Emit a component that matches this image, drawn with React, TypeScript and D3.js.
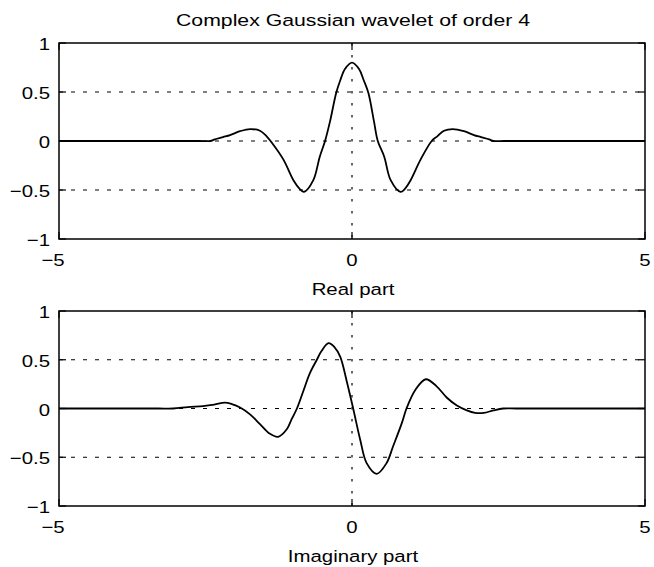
import { useEffect, useRef } from 'react';
import * as d3 from 'd3';

const xTicks = [-5, 0, 5];
const yTicks = [-1, -0.5, 0, 0.5, 1];

const titleText = 'Complex Gaussian wavelet of order 4';
const realLabel = 'Real part';
const imagLabel = 'Imaginary part';

// real part
const realX = [-5, -3.5, -2.6, -2.42, -2.34, -2.2, -2.08, -1.91, -1.74, -1.57, -1.46, -1.39, -1.17, -1.0, -0.89, -0.82, -0.66, -0.55, -0.46, -0.375, -0.27, -0.2, -0.12, 0, 0.12, 0.2, 0.28, 0.375, 0.44, 0.55, 0.66, 0.83, 0.9, 1.0, 1.17, 1.36, 1.46, 1.57, 1.72, 1.91, 2.08, 2.2, 2.34, 2.41, 2.6, 3.5, 5];
const realY = [0, 0, 0, 0, 0.017, 0.04, 0.06, 0.1, 0.122, 0.105, 0.05, 0, -0.19, -0.4, -0.49, -0.52, -0.4, -0.16, 0, 0.2, 0.49, 0.62, 0.735, 0.8, 0.735, 0.62, 0.49, 0.2, 0, -0.16, -0.4, -0.52, -0.49, -0.4, -0.19, 0, 0.05, 0.105, 0.122, 0.1, 0.06, 0.04, 0.017, 0, 0, 0, 0];

// imaginary part
const imagX = [-5, -4, -3.3, -3.05, -2.8, -2.54, -2.35, -2.17, -2.05, -1.91, -1.74, -1.57, -1.4, -1.26, -1.11, -1.03, -0.94, -0.83, -0.72, -0.6, -0.52, -0.4, -0.3, -0.2, -0.09, 0.02, 0.14, 0.25, 0.42, 0.59, 0.7, 0.85, 0.93, 1.08, 1.26, 1.44, 1.62, 1.79, 1.96, 2.1, 2.25, 2.41, 2.58, 2.8, 3.5, 5];
const imagY = [0, 0, 0, 0, 0.015, 0.025, 0.04, 0.06, 0.045, 0.01, -0.06, -0.16, -0.26, -0.29, -0.21, -0.11, 0, 0.18, 0.36, 0.5, 0.59, 0.67, 0.63, 0.53, 0.28, 0, -0.32, -0.56, -0.67, -0.56, -0.39, -0.15, 0, 0.19, 0.3, 0.23, 0.11, 0.03, -0.02, -0.045, -0.045, -0.02, 0, 0, 0, 0];

const font = 'Liberation Sans, Arial, Helvetica, sans-serif';

function App() {
  const svgRef = useRef(null);

  useEffect(() => {
    const svg = d3.select(svgRef.current);
    svg.selectAll('*').remove();

    const width = 654;
    const left = 59;
    const right = 645;
    const fontSize = 17;
    const sx = 1.2;

    svg.append('rect').attr('width', width).attr('height', 567).attr('fill', '#fff');

    const x = d3.scaleLinear().domain([-5, 5]).range([left, right]);

    const addText = (tx, ty, str, anchor, len) => {
      const t = svg
        .append('text')
        .attr('transform', `translate(${tx},${ty}) scale(${sx},1)`)
        .attr('text-anchor', anchor)
        .attr('font-family', font)
        .attr('font-size', fontSize)
        .attr('fill', '#000')
        .text(str);
      if (len) t.attr('textLength', len / sx).attr('lengthAdjust', 'spacingAndGlyphs');
      return t;
    };

    const fmt = (v) => (v < 0 ? '\u2212' + Math.abs(v) : String(v));

    const panels = [
      { top: 43, bottom: 239, xs: realX, ys: realY, label: realLabel },
      { top: 311, bottom: 506, xs: imagX, ys: imagY, label: imagLabel },
    ];

    panels.forEach((p) => {
      const y = d3.scaleLinear().domain([-1, 1]).range([p.bottom, p.top]);
      const g = svg.append('g');

      // dotted grid
      yTicks
        .filter((v) => v > -1 && v < 1)
        .forEach((v) => {
          g.append('line')
            .attr('x1', left).attr('x2', right)
            .attr('y1', y(v)).attr('y2', y(v))
            .attr('stroke', '#000').attr('stroke-width', 1)
            .attr('stroke-dasharray', '4 8');
        });
      xTicks
        .filter((v) => v > -5 && v < 5)
        .forEach((v) => {
          g.append('line')
            .attr('x1', x(v)).attr('x2', x(v))
            .attr('y1', p.top).attr('y2', p.bottom)
            .attr('stroke', '#000').attr('stroke-width', 1.2)
            .attr('stroke-dasharray', '2.5 9.5');
        });

      // curve
      const pts = p.xs.map((v, i) => [v, p.ys[i]]);
      const line = d3
        .line()
        .x((d) => x(d[0]))
        .y((d) => y(d[1]))
        .curve(d3.curveCatmullRom.alpha(0.5));
      g.append('path')
        .attr('d', line(pts))
        .attr('fill', 'none')
        .attr('stroke', '#000')
        .attr('stroke-width', 1.8)
        .attr('stroke-linejoin', 'round');

      // box
      g.append('rect')
        .attr('x', left).attr('y', p.top)
        .attr('width', right - left).attr('height', p.bottom - p.top)
        .attr('fill', 'none').attr('stroke', '#000').attr('stroke-width', 1.5);

      // inward ticks
      const tl = 7;
      yTicks.forEach((v) => {
        g.append('line').attr('x1', left).attr('x2', left + tl).attr('y1', y(v)).attr('y2', y(v)).attr('stroke', '#000').attr('stroke-width', 1.2);
        g.append('line').attr('x1', right).attr('x2', right - tl).attr('y1', y(v)).attr('y2', y(v)).attr('stroke', '#000').attr('stroke-width', 1.2);
        addText(left - 9, y(v) + 7, fmt(v), 'end');
      });
      xTicks.forEach((v) => {
        g.append('line').attr('x1', x(v)).attr('x2', x(v)).attr('y1', p.bottom).attr('y2', p.bottom - tl).attr('stroke', '#000').attr('stroke-width', 1.2);
        g.append('line').attr('x1', x(v)).attr('x2', x(v)).attr('y1', p.top).attr('y2', p.top + tl).attr('stroke', '#000').attr('stroke-width', 1.2);
        addText(x(v) + 5.7, p.bottom + 27, fmt(v), 'end');
      });

      addText((left + right) / 2 + 1, p.bottom + 56, p.label, 'middle');
    });

    addText((left + right) / 2 + 1, 26, titleText, 'middle', 354);
  }, []);

  return (
    <svg
      ref={svgRef}
      width={654}
      height={567}
      style={{ position: 'absolute', left: 0, top: 0, display: 'block' }}
    ></svg>
  );
}

export default App;
